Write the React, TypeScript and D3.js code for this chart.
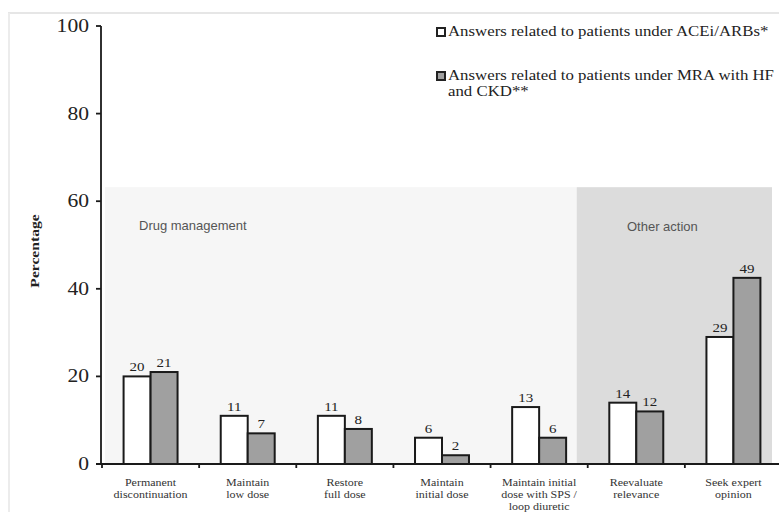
import React from "react";
import * as d3 from "d3";

const categories = [
  "Permanent\ndiscontinuation",
  "Maintain\nlow dose",
  "Restore\nfull dose",
  "Maintain\ninitial dose",
  "Maintain initial\ndose with SPS /\nloop diuretic",
  "Reevaluate\nrelevance",
  "Seek  expert\nopinion",
];
const seriesKeys = ["acei", "mra"];
const seriesNames = [
  ["Answers related to patients under ACEi/ARBs*"],
  ["Answers related to patients under MRA with HF", "and CKD**"],
];
const aceiValues = [20, 11, 11, 6, 13, 14, 29];
const mraValues = [21, 7, 8, 2, 6, 12, 42.5];
const aceiLabels = ["20", "11", "11", "6", "13", "14", "29"];
const mraLabels = ["21", "7", "8", "2", "6", "12", "49"];
const yTicks = [0, 20, 40, 60, 80, 100];
const regionNames = ["Drug management", "Other action"];
const regionTopValue = 63.2;

const W = 779;
const H = 512;
const SERIF = "'Liberation Serif', 'Times New Roman', serif";
const SANS = "'Liberation Sans', Arial, sans-serif";
const SX = 1.2;
const fills = ["#ffffff", "#a0a0a0"];

function SText(props: any) {
  const { x, y, size, anchor, children, weight, fill, rotate } = props;
  const tr = `translate(${x},${y})${rotate ? ` rotate(${rotate})` : ""} scale(${SX},1)`;
  return (
    <text
      transform={tr}
      fontFamily={SERIF}
      fontSize={size}
      textAnchor={anchor || "start"}
      fontWeight={weight || "normal"}
      fill={fill || "#222"}
    >
      {children}
    </text>
  );
}

export default function App() {
  const y = d3.scaleLinear().domain([0, 100]).range([464, 26]);
  const x0 = d3.scaleBand<string>().domain(categories).range([102, 782]).paddingInner(0).paddingOuter(0);
  const bw = x0.bandwidth();
  const x1 = d3.scaleBand<string>().domain(seriesKeys).range([0, bw]).paddingInner(0).paddingOuter(0.8);
  const values = [aceiValues, mraValues];
  const labels = [aceiLabels, mraLabels];
  const step = x0.step();

  const drugLeft = 105;
  const otherLeft = (x0(categories[5]) as number) - 11;
  const otherRight = 782 - 10;
  const regionTop = y(regionTopValue);

  return (
    <svg
      width={W}
      height={H}
      style={{ position: "absolute", left: 0, top: 0, background: "#fff" }}
    >
      {/* frame */}
      <line x1={8} x2={W} y1={13} y2={13} stroke="#e6e6e6" strokeWidth={2} />
      <line x1={9} x2={9} y1={13} y2={H} stroke="#ececec" strokeWidth={2} />

      {/* regions */}
      <rect x={drugLeft} y={regionTop} width={otherLeft - drugLeft} height={y(0) - regionTop} fill="#f6f6f6" />
      <rect x={otherLeft} y={regionTop} width={otherRight - otherLeft} height={y(0) - regionTop} fill="#dcdcdc" />
      <text x={139} y={230} fontFamily={SANS} fontSize={13} fill="#555">
        {regionNames[0]}
      </text>
      <text x={627} y={231} fontFamily={SANS} fontSize={13} fill="#555">
        {regionNames[1]}
      </text>

      {/* bars */}
      {categories.map((c, i) => (
        <g key={c} transform={`translate(${x0(c)},0)`}>
          {seriesKeys.map((k, s) => {
            const v = values[s][i];
            const bx = x1(k) as number;
            return (
              <g key={k}>
                <rect
                  x={bx}
                  y={y(v)}
                  width={x1.bandwidth()}
                  height={y(0) - y(v)}
                  fill={fills[s]}
                  stroke="#1a1a1a"
                  strokeWidth={2}
                />
                <SText x={bx + x1.bandwidth() / 2} y={y(v) - 5} size={12.5} anchor="middle">
                  {labels[s][i]}
                </SText>
              </g>
            );
          })}
        </g>
      ))}

      {/* y axis */}
      <line x1={101} x2={101} y1={y(100)} y2={y(0)} stroke="#1a1a1a" strokeWidth={1.8} />
      {yTicks.map((t) => (
        <g key={t}>
          <line x1={96} x2={101} y1={y(t)} y2={y(t)} stroke="#1a1a1a" strokeWidth={1.8} />
          <SText x={89} y={y(t) + 6} size={18} anchor="end">
            {String(t)}
          </SText>
        </g>
      ))}
      <SText x={39} y={251} size={13} anchor="middle" weight="bold" rotate={-90}>
        Percentage
      </SText>

      {/* x axis */}
      <line x1={96} x2={W} y1={y(0)} y2={y(0)} stroke="#1a1a1a" strokeWidth={1.8} />
      {categories.map((c, i) => (
        <line
          key={"t" + i}
          x1={x0(c) as number}
          x2={x0(c) as number}
          y1={y(0)}
          y2={y(0) + 4}
          stroke="#1a1a1a"
          strokeWidth={1.8}
        />
      ))}
      {categories.map((c) => (
        <g key={"l" + c}>
          {c.split("\n").map((line, j) => (
            <SText key={j} x={(x0(c) as number) + step / 2} y={486 + j * 11.8} size={10} anchor="middle" fill="#333">
              {line}
            </SText>
          ))}
        </g>
      ))}

      {/* legend */}
      {seriesNames.map((lines, s) => {
        const ly = s === 0 ? 36 : 80;
        return (
          <g key={"lg" + s}>
            <rect x={437} y={ly - 8} width={8} height={8} fill={fills[s]} stroke="#222" strokeWidth={2} />
            {lines.map((ln, j) => (
              <SText key={j} x={448} y={ly + j * 16} size={14} fill="#222">
                {ln}
              </SText>
            ))}
          </g>
        );
      })}
    </svg>
  );
}
